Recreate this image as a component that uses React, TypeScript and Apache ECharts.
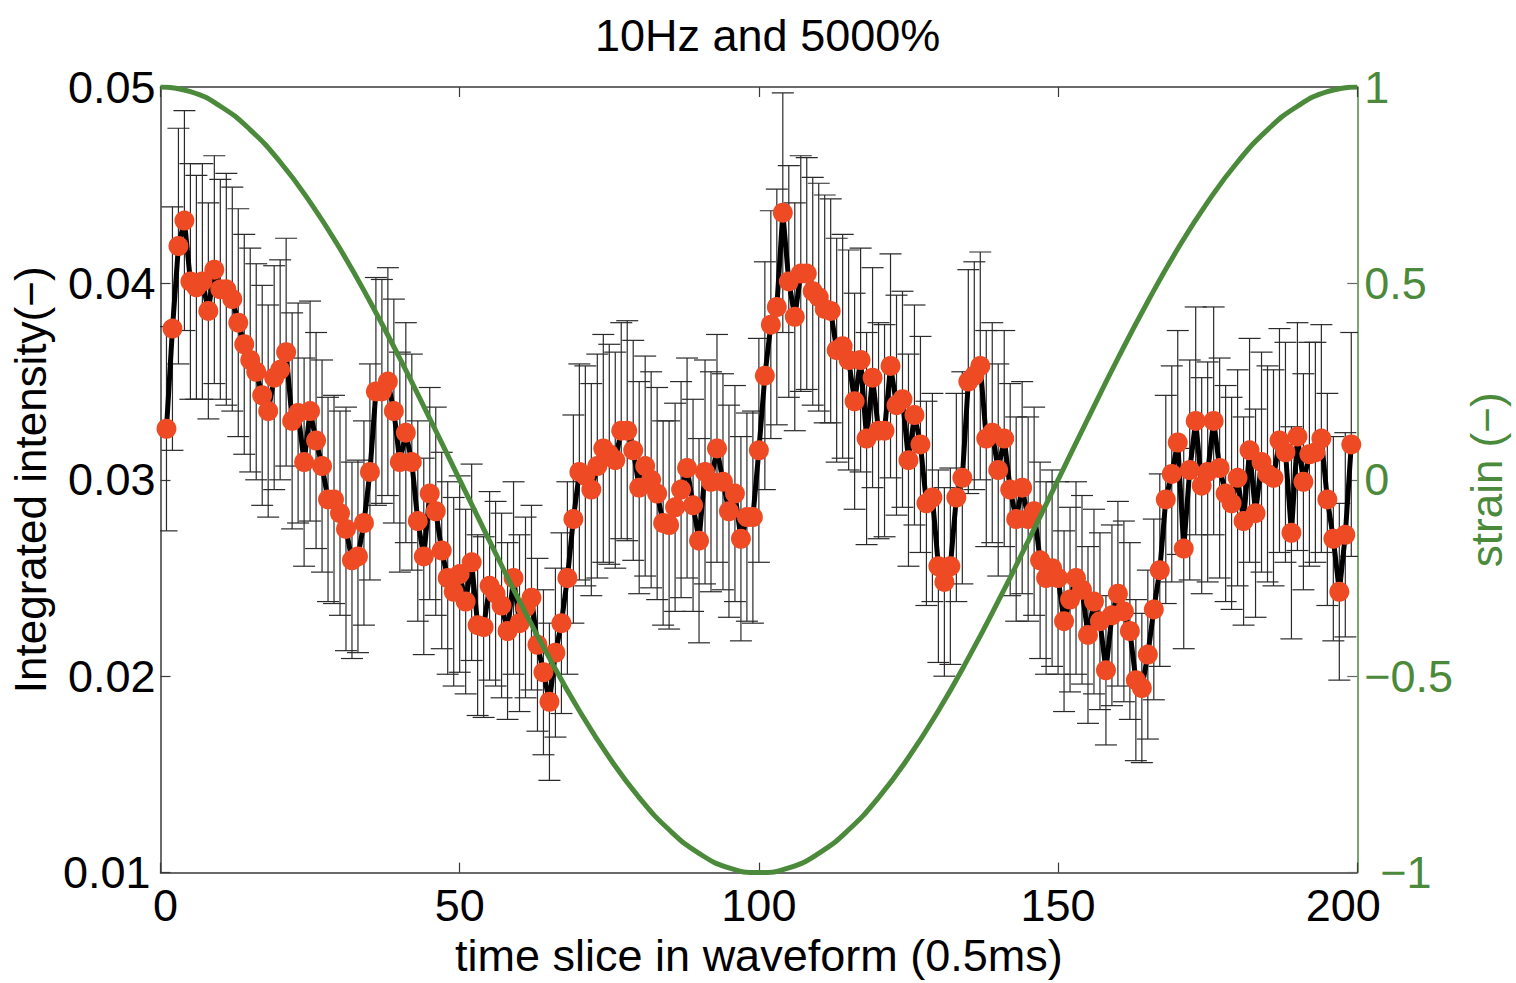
import React, { useEffect, useRef } from "react";
import * as echarts from "echarts";

// time slice index (0.5 ms each)
const slices: number[] = Array.from({ length: 199 }, (_, i) => i + 1);

// integrated intensity, slices 1..199
const intensity: number[] = [
  0.0326, 0.0377, 0.0419, 0.0432, 0.0401, 0.0398, 0.0401, 0.0386, 0.0407, 0.0397,
  0.0397, 0.0392, 0.0380, 0.0369, 0.0361, 0.0355, 0.0343, 0.0335, 0.0352, 0.0356,
  0.0365, 0.0330, 0.0334, 0.0309, 0.0335, 0.0320, 0.0307, 0.0290, 0.0290, 0.0283,
  0.0275, 0.0259, 0.0261, 0.0278, 0.0304, 0.0345, 0.0345, 0.0350, 0.0335, 0.0309,
  0.0324, 0.0309, 0.0279, 0.0261, 0.0293, 0.0284, 0.0264, 0.0250, 0.0243, 0.0252,
  0.0238, 0.0258, 0.0226, 0.0225, 0.0246, 0.0242, 0.0236, 0.0223, 0.0250, 0.0227,
  0.0235, 0.0240, 0.0216, 0.0202, 0.0187, 0.0212, 0.0227, 0.0250, 0.0280, 0.0304,
  0.0302, 0.0295, 0.0307, 0.0316, 0.0313, 0.0310, 0.0325, 0.0325, 0.0315, 0.0296,
  0.0307, 0.0300, 0.0293, 0.0278, 0.0277, 0.0286, 0.0295, 0.0306, 0.0287, 0.0269,
  0.0304, 0.0299, 0.0316, 0.0299, 0.0284, 0.0293, 0.0270, 0.0281, 0.0281, 0.0315,
  0.0353, 0.0379, 0.0388, 0.0436, 0.0401, 0.0383, 0.0405, 0.0405, 0.0396, 0.0393,
  0.0387, 0.0386, 0.0366, 0.0368, 0.0361, 0.0340, 0.0361, 0.0321, 0.0352, 0.0325,
  0.0325, 0.0358, 0.0338, 0.0341, 0.0310, 0.0333, 0.0318, 0.0288, 0.0291, 0.0256,
  0.0248, 0.0256, 0.0291, 0.0301, 0.0350, 0.0353, 0.0358, 0.0321, 0.0324, 0.0305,
  0.0321, 0.0295, 0.0280, 0.0296, 0.0280, 0.0284, 0.0259, 0.0250, 0.0255, 0.0250,
  0.0228, 0.0239, 0.0250, 0.0244, 0.0221, 0.0238, 0.0228, 0.0203, 0.0231, 0.0242,
  0.0233, 0.0223, 0.0198, 0.0194, 0.0211, 0.0234, 0.0254, 0.0290, 0.0303, 0.0319,
  0.0265, 0.0305, 0.0330, 0.0297, 0.0304, 0.0330, 0.0306, 0.0293, 0.0288, 0.0301,
  0.0279, 0.0315, 0.0283, 0.0309, 0.0303, 0.0301, 0.0320, 0.0314, 0.0273, 0.0322,
  0.0299, 0.0313, 0.0314, 0.0321, 0.0290, 0.0270, 0.0243, 0.0272, 0.0318,
];

// half-length of each error bar
const intensityErr: number[] = [
  0.0052, 0.0062, 0.0060, 0.0056, 0.0060, 0.0057, 0.0060, 0.0055, 0.0058, 0.0056,
  0.0059, 0.0057, 0.0058, 0.0056, 0.0057, 0.0055, 0.0056, 0.0054, 0.0057, 0.0056,
  0.0058, 0.0055, 0.0056, 0.0053, 0.0056, 0.0055, 0.0054, 0.0052, 0.0053, 0.0052,
  0.0062, 0.0050, 0.0049, 0.0052, 0.0055, 0.0058, 0.0057, 0.0058, 0.0057, 0.0056,
  0.0056, 0.0055, 0.0051, 0.0050, 0.0054, 0.0053, 0.0050, 0.0049, 0.0048, 0.0050,
  0.0047, 0.0050, 0.0046, 0.0046, 0.0048, 0.0047, 0.0047, 0.0045, 0.0049, 0.0045,
  0.0046, 0.0047, 0.0044, 0.0042, 0.0040, 0.0043, 0.0046, 0.0049, 0.0053, 0.0055,
  0.0056, 0.0054, 0.0057, 0.0058, 0.0056, 0.0055, 0.0055, 0.0056, 0.0056, 0.0054,
  0.0056, 0.0055, 0.0054, 0.0052, 0.0053, 0.0053, 0.0055, 0.0056, 0.0054, 0.0052,
  0.0057, 0.0056, 0.0058, 0.0055, 0.0054, 0.0055, 0.0052, 0.0053, 0.0054, 0.0057,
  0.0058, 0.0058, 0.0060, 0.0061, 0.0059, 0.0058, 0.0060, 0.0059, 0.0058, 0.0058,
  0.0058, 0.0057, 0.0057, 0.0057, 0.0056, 0.0055, 0.0057, 0.0054, 0.0056, 0.0055,
  0.0054, 0.0057, 0.0056, 0.0055, 0.0054, 0.0056, 0.0055, 0.0052, 0.0053, 0.0049,
  0.0048, 0.0050, 0.0053, 0.0054, 0.0057, 0.0058, 0.0058, 0.0055, 0.0056, 0.0054,
  0.0055, 0.0054, 0.0052, 0.0054, 0.0052, 0.0053, 0.0050, 0.0049, 0.0050, 0.0049,
  0.0046, 0.0047, 0.0049, 0.0048, 0.0045, 0.0047, 0.0045, 0.0038, 0.0046, 0.0047,
  0.0046, 0.0045, 0.0041, 0.0038, 0.0043, 0.0046, 0.0049, 0.0053, 0.0055, 0.0057,
  0.0051, 0.0056, 0.0058, 0.0055, 0.0056, 0.0058, 0.0056, 0.0055, 0.0054, 0.0055,
  0.0053, 0.0057, 0.0053, 0.0056, 0.0055, 0.0055, 0.0057, 0.0056, 0.0054, 0.0058,
  0.0055, 0.0057, 0.0056, 0.0058, 0.0054, 0.0052, 0.0045, 0.0052, 0.0057,
];

// applied strain waveform, read every 5 slices
const strainX: number[] = [
  0, 5, 10, 15, 20, 25, 30, 35, 40, 45, 50, 55, 60, 65, 70, 75, 80, 85, 90, 95, 100,
  105, 110, 115, 120, 125, 130, 135, 140, 145, 150, 155, 160, 165, 170, 175, 180, 185, 190, 195, 200,
];
const strainY: number[] = [
  1, 0.988, 0.951, 0.891, 0.809, 0.707, 0.588, 0.454, 0.309, 0.156, 0,
  -0.156, -0.309, -0.454, -0.588, -0.707, -0.809, -0.891, -0.951, -0.988, -1,
  -0.988, -0.951, -0.891, -0.809, -0.707, -0.588, -0.454, -0.309, -0.156, 0,
  0.156, 0.309, 0.454, 0.588, 0.707, 0.809, 0.891, 0.951, 0.988, 1,
];

const xTicks = { min: 0, max: 200, interval: 50 };
const leftTicks = { min: 0.01, max: 0.05, interval: 0.01 };
const rightTicks = { min: -1, max: 1, interval: 0.5 };

const FONT = "'Liberation Sans', Arial, Helvetica, sans-serif";
const GREEN = "#4b8a3a";
const RED = "#ee4b24";
const AXIS = "#3a3a3a";

const labelFont = (color: string) => ({ fontFamily: FONT, fontSize: 45, color, lineHeight: 32 });

export default function App() {
  const ref = useRef<HTMLDivElement>(null);

  useEffect(() => {
    if (!ref.current) return;
    const chart = echarts.init(ref.current, undefined, { renderer: "svg" });

    const lineData = slices.map((x, i) => [x, intensity[i]]);
    const errData = slices.map((x, i) => [x, intensity[i] - intensityErr[i], intensity[i] + intensityErr[i]]);
    const strainData = strainX.map((x, i) => [x, strainY[i]]);

    const option: any = {
      animation: false,
      backgroundColor: "#ffffff",
      textStyle: { fontFamily: FONT },
      title: {
        text: "10Hz and 5000%",
        left: 590,
        top: 8,
        textStyle: { fontFamily: FONT, fontSize: 45, fontWeight: "normal", color: "#000" },
      },
      grid: { left: 160, right: 151, top: 87, bottom: 99, containLabel: false },
      xAxis: [
        {
          type: "value",
          position: "bottom",
          ...xTicks,
          name: "time slice in waveform (0.5ms)",
          nameLocation: "middle",
          nameGap: 38,
          nameTextStyle: { fontFamily: FONT, fontSize: 45, color: "#000", lineHeight: 40 },
          axisLine: { show: true, onZero: false, lineStyle: { color: AXIS, width: 1.5 } },
          axisTick: { show: true, inside: true, length: 10, lineStyle: { color: AXIS, width: 1.2 } },
          axisLabel: {
            ...labelFont("#000"),
            margin: 17,
            formatter: (v: number) =>
              v === xTicks.min ? "{lo|" + v + "}" : v === xTicks.max ? "{hi|" + v + "}" : String(v),
            rich: {
              lo: { ...labelFont("#000"), padding: [0, 0, 0, 10] },
              hi: { ...labelFont("#000"), padding: [0, 28, 0, 0] },
            },
          },
          splitLine: { show: false },
        },
        {
          type: "value",
          position: "top",
          ...xTicks,
          axisLine: { show: true, onZero: false, lineStyle: { color: AXIS, width: 1.5 } },
          axisTick: { show: true, inside: true, length: 10, lineStyle: { color: AXIS, width: 1.2 } },
          axisLabel: { show: false },
          splitLine: { show: false },
        },
      ],
      yAxis: [
        {
          type: "value",
          position: "left",
          ...leftTicks,
          name: "Integrated intensity(\u2212)",
          nameLocation: "middle",
          nameGap: 100,
          nameTextStyle: { fontFamily: FONT, fontSize: 44, color: "#000" },
          axisLine: { show: true, onZero: false, lineStyle: { color: AXIS, width: 1.5 } },
          axisTick: { show: true, inside: true, length: 10, lineStyle: { color: AXIS, width: 1.2 } },
          axisLabel: {
            ...labelFont("#000"),
            margin: 5,
            formatter: (v: number) =>
              Math.abs(v - leftTicks.min) < 1e-9 ? "{lo|" + v.toFixed(2) + "}" : v.toFixed(2),
            rich: { lo: { ...labelFont("#000"), padding: [0, 5, 0, 0] } },
          },
          splitLine: { show: false },
        },
        {
          type: "value",
          position: "right",
          ...rightTicks,
          name: "strain (\u2212)",
          nameLocation: "middle",
          nameGap: 105,
          nameTextStyle: { fontFamily: FONT, fontSize: 44, color: GREEN },
          axisLine: { show: true, onZero: false, lineStyle: { color: GREEN, width: 1.5 } },
          axisTick: { show: true, inside: true, length: 10, lineStyle: { color: "#666", width: 1.2 } },
          axisLabel: {
            ...labelFont(GREEN),
            margin: 7,
            formatter: (v: number) => {
              const s = v < 0 ? "\u2212" + String(Math.abs(v)) : String(v);
              return v === rightTicks.min ? "{lo|" + s + "}" : s;
            },
            rich: { lo: { ...labelFont(GREEN), padding: [0, 0, 0, 16] } },
          },
          splitLine: { show: false },
        },
      ],
      series: [
        {
          name: "error",
          type: "custom",
          xAxisIndex: 0,
          yAxisIndex: 0,
          clip: true,
          z: 1,
          encode: { x: 0, y: [1, 2] },
          data: errData,
          renderItem: (params: any, api: any) => {
            const x = api.value(0);
            const lo = api.value(1);
            const hi = api.value(2);
            const pHi = api.coord([x, hi]);
            const pLo = api.coord([x, lo]);
            const hw = 11;
            const style = { stroke: "#2a2a2a", lineWidth: 1.2 };
            return {
              type: "group",
              children: [
                { type: "line", shape: { x1: pHi[0], y1: pHi[1], x2: pLo[0], y2: pLo[1] }, style },
                { type: "line", shape: { x1: pHi[0] - hw, y1: pHi[1], x2: pHi[0] + hw, y2: pHi[1] }, style },
                { type: "line", shape: { x1: pLo[0] - hw, y1: pLo[1], x2: pLo[0] + hw, y2: pLo[1] }, style },
              ],
            };
          },
        },
        {
          name: "intensity",
          type: "line",
          xAxisIndex: 0,
          yAxisIndex: 0,
          z: 3,
          data: lineData,
          symbol: "circle",
          symbolSize: 20,
          showSymbol: true,
          showAllSymbol: true,
          lineStyle: { color: "#000", width: 5 },
          itemStyle: { color: RED, borderWidth: 0 },
        },
        {
          name: "strain",
          type: "line",
          xAxisIndex: 0,
          yAxisIndex: 1,
          z: 5,
          smooth: true,
          data: strainData,
          symbol: "none",
          lineStyle: { color: GREEN, width: 5 },
        },
      ],
    };

    chart.setOption(option);
    return () => chart.dispose();
  }, []);

  return (
    <div
      ref={ref}
      style={{ position: "fixed", left: 0, top: 0, width: 1516, height: 983, background: "#fff" }}
    />
  );
}
